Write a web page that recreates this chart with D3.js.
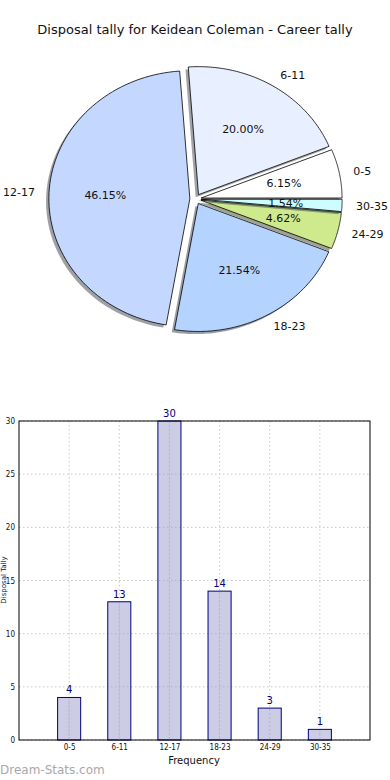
<!DOCTYPE html>
<html><head><meta charset="utf-8">
<script src="https://cdn.jsdelivr.net/npm/d3@7"></script>
<style>html,body{margin:0;padding:0;background:#fff;}svg{display:block;font-family:"DejaVu Sans",sans-serif;}</style>
</head><body>
<script>
const title = "Disposal tally for Keidean Coleman - Career tally";
const categories = ["0-5","6-11","12-17","18-23","24-29","30-35"];
const counts = [4,13,30,14,3,1];
const pieColors = ["#ffffff","#e8f0ff","#c4d8ff","#b4d4ff","#cfea8c","#ccfdff"];
const yTicks = [0,5,10,15,20,25,30];
const xLabel = "Frequency";
const yLabel = "Disposal Tally";
const watermark = "Dream-Stats.com";

(function(){
const W = 390, H = 780;
const svg = d3.select("body").append("svg").attr("width", W).attr("height", H);

svg.append("text").attr("x", 195).attr("y", 34).attr("text-anchor","middle")
  .attr("font-size", 13).attr("fill","#111").text(title);

// ---------- Pie ----------
const cx = 195.5, cy = 199, rx = 141, ry = 128, explode = 0.04;
const total = d3.sum(counts);
const pie = d3.pie().sort(null).startAngle(0).endAngle(2*Math.PI).value(d => d)(counts);
function pt(theta, r, ox, oy){ return [ox + r*rx*Math.cos(theta), oy - r*ry*Math.sin(theta)]; }
function wedgePath(a0, a1, ox, oy){
  const n = 80; const pts = [[ox, oy]];
  for (let i=0;i<=n;i++){ const t = a0 + (a1-a0)*i/n; pts.push(pt(t,1,ox,oy)); }
  return d3.line()(pts) + "Z";
}
const pieG = svg.append("g");
pie.forEach((d,i) => {
  const a0 = d.startAngle, a1 = d.endAngle, m = (a0+a1)/2;
  const ox = cx + explode*rx*Math.cos(m), oy = cy - explode*ry*Math.sin(m);
  const c = d3.rgb(pieColors[i]);
  pieG.append("path").attr("d", wedgePath(a0,a1,ox-2.8,oy+2.6))
    .attr("fill", d3.rgb(c.r*0.3,c.g*0.3,c.b*0.3)).attr("fill-opacity",0.5);
  pieG.append("path").attr("d", wedgePath(a0,a1,ox,oy))
    .attr("fill", pieColors[i]).attr("stroke","#000").attr("stroke-width",0.8)
    .attr("stroke-linejoin","round");
  d.ox = ox; d.oy = oy; d.m = m;
});
pie.forEach((d,i) => {
  const [lx, ly] = pt(d.m, 1.1, d.ox, d.oy);
  pieG.append("text").attr("x", lx).attr("y", ly).attr("dy","0.35em")
    .attr("text-anchor", Math.cos(d.m) >= 0 ? "start" : "end")
    .attr("font-size", 11).attr("fill","#111").text(categories[i]);
  const [px, py] = pt(d.m, 0.6, d.ox, d.oy);
  pieG.append("text").attr("x", px).attr("y", py).attr("dy","0.35em")
    .attr("text-anchor","middle").attr("font-size", 11).attr("fill","#111")
    .text((100*counts[i]/total).toFixed(2) + "%");
});

// ---------- Bar chart ----------
const L = 19, R = 370, T = 421, B = 740;
const x = d3.scaleLinear().domain([-1, categories.length]).range([L, R]);
const y = d3.scaleLinear().domain([0, 30]).range([B, T]);
const bw = 0.46;
const g = svg.append("g");
g.selectAll(".gy").data(yTicks).enter().append("line")
  .attr("x1", L).attr("x2", R).attr("y1", d=>y(d)).attr("y2", d=>y(d))
  .attr("stroke","#c8c8c8").attr("stroke-width",1).attr("stroke-dasharray","1.5,2.5");
g.selectAll(".gx").data(categories).enter().append("line")
  .attr("x1",(d,i)=>x(i)).attr("x2",(d,i)=>x(i)).attr("y1", T).attr("y2", B)
  .attr("stroke","#c8c8c8").attr("stroke-width",1).attr("stroke-dasharray","1.5,2.5");
g.selectAll(".bar").data(counts).enter().append("rect")
  .attr("x",(d,i)=>x(i-bw/2)).attr("width", x(bw)-x(0))
  .attr("y", d=>y(d)).attr("height", d=>B-y(d))
  .attr("fill","#9999cc").attr("fill-opacity",0.5)
  .attr("stroke","#000080").attr("stroke-width",1);
g.selectAll(".gx2").data(counts).enter().append("line")
  .attr("x1",(d,i)=>x(i)).attr("x2",(d,i)=>x(i)).attr("y1", d=>y(d)+1).attr("y2", B)
  .attr("stroke","#b8b8c8").attr("stroke-width",1).attr("stroke-dasharray","1.5,2.5");
g.selectAll(".vl").data(counts).enter().append("text")
  .attr("x",(d,i)=>x(i)).attr("y", d=>y(d)-4).attr("text-anchor","middle")
  .attr("font-size",10).attr("fill","#000080").text(d=>d);
g.append("rect").attr("x", L).attr("y", T).attr("width", R-L).attr("height", B-T)
  .attr("fill","none").attr("stroke","#000").attr("stroke-width",1);
const yAxis = d3.axisLeft(y).tickValues(yTicks).tickSize(0).tickPadding(4);
g.append("g").attr("transform",`translate(${L},0)`).call(yAxis)
  .call(s=>s.select(".domain").remove())
  .selectAll("text").attr("font-size",8).attr("font-family","'DejaVu Sans Condensed','DejaVu Sans',sans-serif").attr("fill","#111");
const xAxis = d3.axisBottom(x).tickValues(d3.range(categories.length)).tickFormat(i=>categories[i]).tickSize(0).tickPadding(4);
g.append("g").attr("transform",`translate(0,${B})`).call(xAxis)
  .call(s=>s.select(".domain").remove())
  .selectAll("text").attr("font-size",8).attr("font-family","'DejaVu Sans Condensed','DejaVu Sans',sans-serif").attr("fill","#111");
svg.append("text").attr("x", 194).attr("y", 764).attr("text-anchor","middle")
  .attr("font-size",10).attr("fill","#111").text(xLabel);
svg.append("text").attr("transform","translate(5.5,580) rotate(-90)").attr("text-anchor","middle")
  .attr("font-size",7).attr("fill","#111").text(yLabel);
svg.append("text").attr("x", 0).attr("y", 774).attr("font-size",12)
  .attr("fill","#a8a8a8").text(watermark);
})();
</script>
</body></html>
